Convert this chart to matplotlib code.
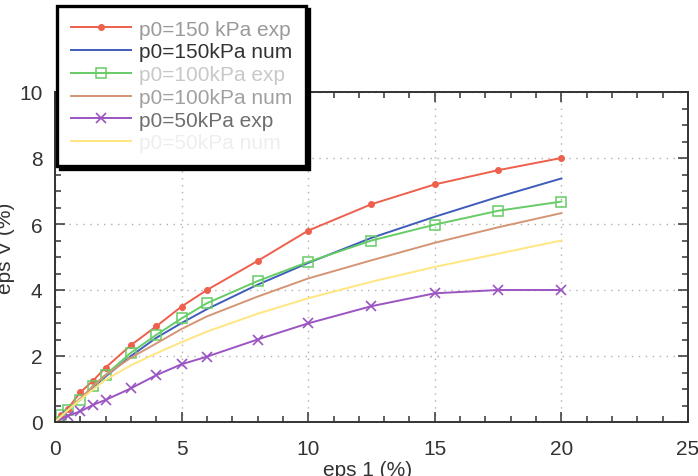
import matplotlib
matplotlib.use("Agg")
import matplotlib.pyplot as plt
from matplotlib.ticker import MultipleLocator

plt.rcParams['font.family'] = ['Liberation Sans', 'DejaVu Sans']

# ---- data ----
x_exp150 = [0, 0.25, 0.5, 1, 1.5, 2, 3, 4, 5, 6, 8, 10, 12.5, 15, 17.5, 20]
y_exp150 = [0, 0.22, 0.4, 0.9, 1.25, 1.65, 2.33, 2.9, 3.5, 4.0, 4.88, 5.8, 6.6, 7.2, 7.63, 8.0]

x_num = [0, 0.5, 1, 2, 3, 4, 5, 6, 8, 10, 12.5, 15, 17.5, 20]
y_num150 = [0, 0.37, 0.7, 1.38, 2.0, 2.55, 3.0, 3.42, 4.16, 4.82, 5.58, 6.22, 6.82, 7.38]

x_exp100 = [0, 0.25, 0.5, 1, 1.5, 2, 3, 4, 5, 6, 8, 10, 12.5, 15, 17.5, 20]
y_exp100 = [0, 0.2, 0.36, 0.67, 1.1, 1.43, 2.1, 2.64, 3.14, 3.6, 4.27, 4.85, 5.5, 5.98, 6.4, 6.68]

y_num100 = [0, 0.36, 0.72, 1.42, 1.95, 2.38, 2.82, 3.2, 3.8, 4.35, 4.9, 5.43, 5.9, 6.33]

x_exp50 = [0, 0.5, 1, 1.5, 2, 3, 4, 5, 6, 8, 10, 12.5, 15, 17.5, 20]
y_exp50 = [0, 0.19, 0.32, 0.52, 0.67, 1.02, 1.42, 1.75, 1.98, 2.5, 2.99, 3.51, 3.9, 4.0, 4.0]

y_num50 = [0, 0.35, 0.68, 1.28, 1.72, 2.08, 2.42, 2.74, 3.28, 3.75, 4.25, 4.7, 5.1, 5.5]

labels = ["p0=150 kPa exp", "p0=150kPa num", "p0=100kPa exp",
          "p0=100kPa num", "p0=50kPa exp", "p0=50kPa num"]
label_colors = ["#9a9a9a", "#333333", "#c8c8c8", "#a0a0a0", "#6e6e6e", "#eeeeee"]

W, H = 698, 477
fig = plt.figure(figsize=(W / 100, H / 100), dpi=100)
ax = fig.add_axes([55 / W, 1 - 423 / H, (688 - 55) / W, (423 - 93) / H])

lw = 1.4
h1, = ax.plot(x_exp150, y_exp150, color="#ee5f4c", lw=lw, marker="o", ms=4, label=labels[0])
h2, = ax.plot(x_num, y_num150, color="#3f5cba", lw=lw, label=labels[1])
h3, = ax.plot(x_exp100, y_exp100, color="#66cc66", lw=lw, marker="s", ms=7,
              mfc="none", mew=1.1, label=labels[2])
h4, = ax.plot(x_num, y_num100, color="#d49575", lw=lw, label=labels[3])
h5, = ax.plot(x_exp50, y_exp50, color="#9b55c2", lw=lw, marker="x", ms=7, mew=1.2, label=labels[4])
h6, = ax.plot(x_num, y_num50, color="#ffe680", lw=lw, label=labels[5])

ax.set_xlim(0, 25)
ax.set_ylim(0, 10)
ax.xaxis.set_major_locator(MultipleLocator(5))
ax.xaxis.set_minor_locator(MultipleLocator(1))
ax.yaxis.set_major_locator(MultipleLocator(2))
ax.yaxis.set_minor_locator(MultipleLocator(0.5))
ax.tick_params(which="both", direction="in", top=True, right=True, colors="#333333",
               labelsize=15, width=1.1)
ax.tick_params(which="major", length=7)
ax.tick_params(axis="x", which="major", pad=12)
ax.tick_params(axis="y", which="major", pad=9)
ax.tick_params(which="minor", length=4)
for s in ax.spines.values():
    s.set_linewidth(1.4)
    s.set_color("#333333")
ax.grid(True, which="major", linestyle=(0, (1, 4)), color="#b0b0b0", lw=1.0)
ax.set_axisbelow(True)

fig.text(368 / W, 1 - 461 / H, "eps 1 (%)", ha="center", va="top", fontsize=15, color="#333333")
fig.text(6 / W, 1 - 248 / H, "eps V (%)", ha="center", va="center", rotation=90,
         fontsize=15, color="#333333")

leg = fig.legend(handles=[h1, h2, h3, h4, h5, h6], loc="upper left",
                 bbox_to_anchor=(57 / W, 1 - 7 / H), bbox_transform=fig.transFigure,
                 borderaxespad=0, fontsize=15, frameon=True, fancybox=False,
                 shadow={"color": "black", "alpha": 1.0},
                 handlelength=2.9, handletextpad=0.38, labelspacing=0.18,
                 borderpad=0.65, framealpha=1)
leg.get_frame().set_edgecolor("black")
leg.get_frame().set_linewidth(2.4)
for t, c in zip(leg.get_texts(), label_colors):
    t.set_color(c)

fig.savefig("out.png", dpi=100)
